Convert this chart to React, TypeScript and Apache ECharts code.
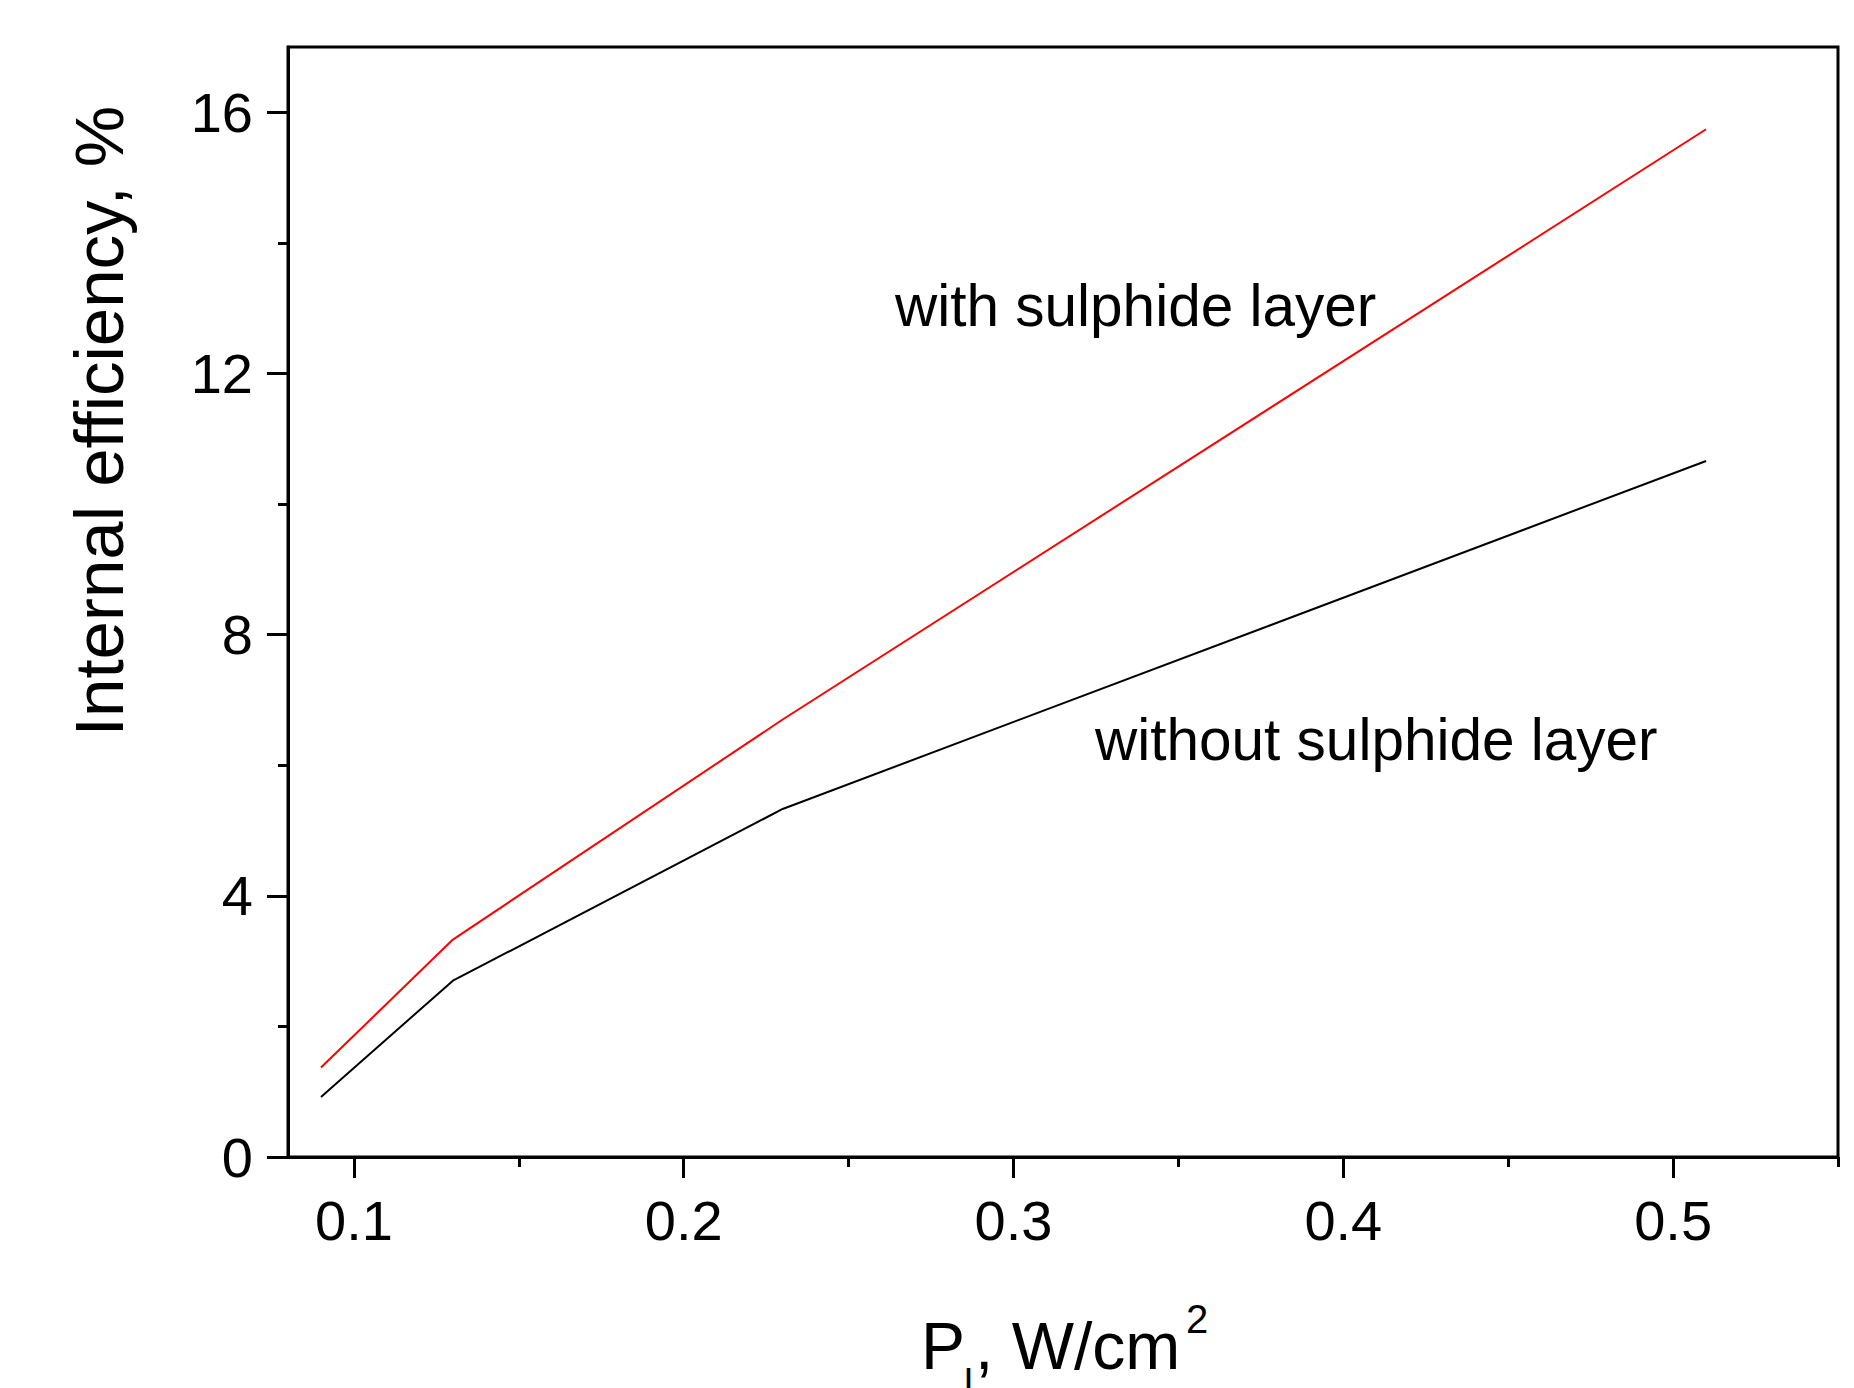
import React, { useEffect, useRef } from "react";
import * as echarts from "echarts";

const xValues = [0.09, 0.13, 0.23, 0.51];
const withLayer = [1.37, 3.33, 6.7, 15.74];
const withoutLayer = [0.92, 2.7, 5.33, 10.66];

const xMajorTicks = [0.1, 0.2, 0.3, 0.4, 0.5];
const xMinorTicks = [0.15, 0.25, 0.35, 0.45, 0.55];
const yMajorTicks = [0, 4, 8, 12, 16];
const yMinorTicks = [2, 6, 10, 14];

const FONT = "'Liberation Sans', Arial, Helvetica, sans-serif";

export default function App() {
  const ref = useRef<HTMLDivElement>(null);
  useEffect(() => {
    if (!ref.current) return;
    const chart = echarts.init(ref.current, null, { renderer: "svg" });
    const labelStyle = { color: "#000", fontSize: 56, fontFamily: FONT };
    chart.setOption({
      animation: false,
      backgroundColor: "#fff",
      grid: {
        left: 288,
        top: 47,
        right: 16,
        bottom: 231,
        show: true,
        borderColor: "#000",
        borderWidth: 3,
        backgroundColor: "transparent",
        containLabel: false,
        outerBoundsMode: "none",
      },
      xAxis: [
        {
          type: "value",
          min: 0.08,
          max: 0.55,
          position: "bottom",
          axisLine: { show: true, onZero: false, lineStyle: { color: "#000", width: 3 } },
          axisTick: { show: true, inside: false, length: 21, customValues: xMajorTicks, lineStyle: { color: "#000", width: 3 } },
          axisLabel: { show: true, margin: 35, customValues: xMajorTicks, formatter: (v: number) => v.toFixed(1), ...labelStyle },
          splitLine: { show: false },
        },
        {
          type: "value",
          min: 0.08,
          max: 0.55,
          position: "bottom",
          axisLine: { show: false, onZero: false },
          axisTick: { show: true, inside: false, length: 10, customValues: xMinorTicks, lineStyle: { color: "#000", width: 3 } },
          axisLabel: { show: false },
          splitLine: { show: false },
        },
      ],
      yAxis: [
        {
          type: "value",
          min: 0,
          max: 17,
          position: "left",
          axisLine: { show: true, onZero: false, lineStyle: { color: "#000", width: 3 } },
          axisTick: { show: true, inside: false, length: 21, customValues: yMajorTicks, lineStyle: { color: "#000", width: 3 } },
          axisLabel: { show: true, margin: 35, customValues: yMajorTicks, ...labelStyle },
          splitLine: { show: false },
        },
        {
          type: "value",
          min: 0,
          max: 17,
          position: "left",
          axisLine: { show: false, onZero: false },
          axisTick: { show: true, inside: false, length: 10, customValues: yMinorTicks, lineStyle: { color: "#000", width: 3 } },
          axisLabel: { show: false },
          splitLine: { show: false },
        },
      ],
      series: [
        {
          type: "line",
          name: "with sulphide layer",
          xAxisIndex: 0,
          yAxisIndex: 0,
          data: xValues.map((x, i) => [x, withLayer[i]]),
          showSymbol: false,
          symbol: "none",
          lineStyle: { color: "#ff0000", width: 2 },
        },
        {
          type: "line",
          name: "without sulphide layer",
          xAxisIndex: 0,
          yAxisIndex: 0,
          data: xValues.map((x, i) => [x, withoutLayer[i]]),
          showSymbol: false,
          symbol: "none",
          lineStyle: { color: "#000", width: 2 },
        },
      ],
      graphic: [
        {
          type: "text",
          x: 99,
          y: 421,
          rotation: Math.PI / 2,
          style: {
            text: "Internal efficiency, %",
            fontSize: 69,
            fontFamily: FONT,
            fill: "#000",
            align: "center",
            verticalAlign: "middle",
          },
        },
        {
          type: "text",
          x: 921,
          y: 1346,
          style: { text: "P", fontSize: 66, fontFamily: FONT, fill: "#000", align: "left", verticalAlign: "middle" },
        },
        {
          type: "text",
          x: 964,
          y: 1384,
          style: { text: "l", fontSize: 40, fontFamily: FONT, fill: "#000", align: "left", verticalAlign: "middle" },
        },
        {
          type: "text",
          x: 975,
          y: 1346,
          style: { text: ", W/cm", fontSize: 66, fontFamily: FONT, fill: "#000", align: "left", verticalAlign: "middle" },
        },
        {
          type: "text",
          x: 1186,
          y: 1319,
          style: { text: "2", fontSize: 40, fontFamily: FONT, fill: "#000", align: "left", verticalAlign: "middle" },
        },
        {
          type: "text",
          x: 895,
          y: 305,
          style: { text: "with sulphide layer", fontSize: 58.5, fontFamily: FONT, fill: "#000", align: "left", verticalAlign: "middle" },
        },
        {
          type: "text",
          x: 1095,
          y: 739,
          style: { text: "without sulphide layer", fontSize: 58.5, fontFamily: FONT, fill: "#000", align: "left", verticalAlign: "middle" },
        },
      ],
    });
    return () => chart.dispose();
  }, []);
  return (
    <div
      ref={ref}
      style={{ position: "absolute", left: 0, top: 0, width: 1854, height: 1388 }}
    />
  );
}
